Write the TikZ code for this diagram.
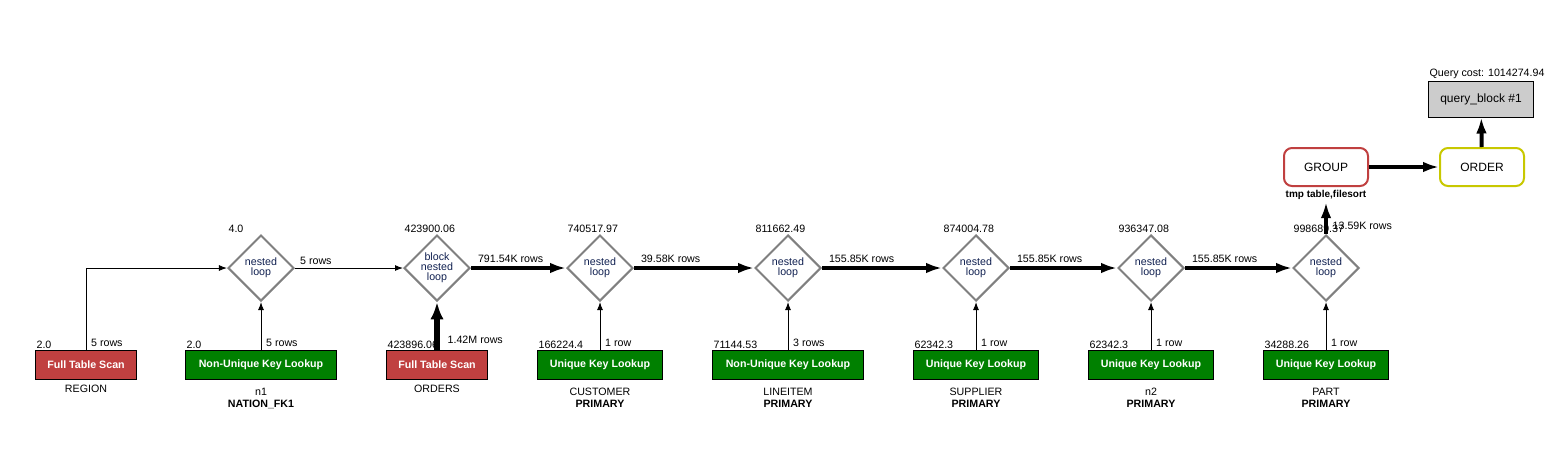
\documentclass[tikz,border=0pt]{standalone}
\usepackage{fontspec}
\setmainfont{Liberation Sans}
\usetikzlibrary{arrows.meta, positioning, shapes}
\definecolor{scanred}{RGB}{192,64,64}
\definecolor{lookgreen}{RGB}{0,128,0}
\definecolor{joinblue}{RGB}{16,32,80}
\definecolor{ordyellow}{RGB}{200,200,0}
\definecolor{qbgray}{RGB}{204,204,204}
\def\rowy{365}
\def\joiny{268}
\tikzstyle{every node}=[font=\fontsize{8}{9}\selectfont]
\tikzstyle{loop join}=[diamond, draw=gray, line width=1.5pt, minimum width=49.5pt, minimum height=49.5pt, inner sep=-2pt, align=center, text=joinblue, font=\fontsize{8}{7.5}\selectfont]
\tikzstyle{access op}=[rectangle, draw=black, line width=0.75pt, minimum height=22pt, text=white, font=\fontsize{8}{9}\selectfont\bfseries]
\tikzstyle{scan op}=[access op, fill=scanred, minimum width=75.75pt]
\tikzstyle{lookup op}=[access op, fill=lookgreen, minimum width=93.75pt]
\tikzstyle{nonunique op}=[access op, fill=lookgreen, minimum width=113.25pt]
\tikzstyle{tbl name}=[inner sep=2pt, align=center]
\tikzstyle{cost label}=[anchor=south west, inner sep=1pt]
\tikzstyle{rows label}=[anchor=south west, inner sep=2pt, xshift=1.5pt]
\tikzstyle{thin flow}=[-{Latex[length=6pt,width=4.5pt]}, line width=0.75pt]
\tikzstyle{thick flow}=[-{Latex[length=12pt,width=8pt]}, line width=3.5pt]
\tikzstyle{group op}=[rectangle, rounded corners=6pt, draw=scanred, line width=1.5pt, minimum width=63pt, minimum height=28.5pt, font=\fontsize{9}{10}\selectfont]
\tikzstyle{order op}=[group op, draw=ordyellow]
\tikzstyle{query block}=[rectangle, draw=black, fill=qbgray, line width=0.75pt, minimum width=78.75pt, minimum height=27pt, font=\fontsize{9}{10}\selectfont]

\begin{document}
\begin{tikzpicture}[x=0.75pt, y=-0.75pt]
        \useasboundingbox (0,0) rectangle (1561,472);

		% joins
		\node[loop join] (j1) at (261,\joiny) {nested\\loop};
		\node[loop join] (j2) at (437,\joiny) {block\\nested\\loop};
		\node[loop join] (j3) at (600,\joiny) {nested\\loop};
		\node[loop join] (j4) at (788,\joiny) {nested\\loop};
		\node[loop join] (j5) at (976,\joiny) {nested\\loop};
		\node[loop join] (j6) at (1151,\joiny) {nested\\loop};
		\node[loop join] (j7) at (1326,\joiny) {nested\\loop};
		\node[cost label] (j1 cost) at (j1.west |- j1.north) {4.0};
		\node[cost label] (j2 cost) at (j2.west |- j2.north) {423900.06};
		\node[cost label] (j3 cost) at (j3.west |- j3.north) {740517.97};
		\node[cost label] (j4 cost) at (j4.west |- j4.north) {811662.49};
		\node[cost label] (j5 cost) at (j5.west |- j5.north) {874004.78};
		\node[cost label] (j6 cost) at (j6.west |- j6.north) {936347.08};
		\node[cost label] (j7 cost) at (j7.west |- j7.north) {998689.37};

		% tables
		\node[scan op] (region) at (86,\rowy) {Full Table Scan};
		\node[nonunique op] (n1) at (261,\rowy) {Non-Unique Key Lookup};
		\node[scan op] (orders) at (437,\rowy) {Full Table Scan};
		\node[lookup op] (customer) at (600,\rowy) {Unique Key Lookup};
		\node[nonunique op] (lineitem) at (788,\rowy) {Non-Unique Key Lookup};
		\node[lookup op] (supplier) at (976,\rowy) {Unique Key Lookup};
		\node[lookup op] (n2) at (1151,\rowy) {Unique Key Lookup};
		\node[lookup op] (part) at (1326,\rowy) {Unique Key Lookup};
		\node[tbl name, below=1.5pt of region] (region name) {REGION};
		\node[tbl name, below=4pt of n1] (n1 name) {n1\\\textbf{NATION\_FK1}};
		\node[tbl name, below=1.5pt of orders] (orders name) {ORDERS};
		\node[tbl name, below=4pt of customer] (customer name) {CUSTOMER\\\textbf{PRIMARY}};
		\node[tbl name, below=4pt of lineitem] (lineitem name) {LINEITEM\\\textbf{PRIMARY}};
		\node[tbl name, below=4pt of supplier] (supplier name) {SUPPLIER\\\textbf{PRIMARY}};
		\node[tbl name, below=4pt of n2] (n2 name) {n2\\\textbf{PRIMARY}};
		\node[tbl name, below=4pt of part] (part name) {PART\\\textbf{PRIMARY}};
		\node[cost label] (region cost) at (region.north west) {2.0};
		\node[cost label] (n1 cost) at (n1.north west) {2.0};
		\node[cost label] (orders cost) at (orders.north west) {423896.06};
		\node[cost label] (customer cost) at (customer.north west) {166224.4};
		\node[cost label] (lineitem cost) at (lineitem.north west) {71144.53};
		\node[cost label] (supplier cost) at (supplier.north west) {62342.3};
		\node[cost label] (n2 cost) at (n2.north west) {62342.3};
		\node[cost label] (part cost) at (part.north west) {34288.26};

		% result
		\node[group op] (group) at (1326,167) {GROUP};
		\node[tbl name, below=0pt of group, font=\fontsize{7.5}{9}\selectfont\bfseries] (group note) {tmp table,filesort};
		\node[order op] (order) at (1482,167) {ORDER};
		\node[query block] (qb) at (1481,99) {query\_block \#1};
		\node[cost label] (qb cost) at (qb.north west) {Query cost: 1014274.94};

		\draw[thin flow] (region) |- node[rows label, pos=0] {5 rows} (j1);
		\path
		(n1) edge[thin flow] node[rows label, at start] {5 rows} (j1)
		(j1) edge[thin flow] node[rows label, at start] {5 rows} (j2)
		(orders) edge[thick flow, line width=5pt, -{Latex[length=13pt,width=10pt]}] node[rows label, at start, xshift=2pt] {1.42M rows} (j2)
		(j2) edge[thick flow] node[rows label, at start] {791.54K rows} (j3)
		(customer) edge[thin flow] node[rows label, at start] {1 row} (j3)
		(j3) edge[thick flow] node[rows label, at start] {39.58K rows} (j4)
		(lineitem) edge[thin flow] node[rows label, at start] {3 rows} (j4)
		(j4) edge[thick flow] node[rows label, at start] {155.85K rows} (j5)
		(supplier) edge[thin flow] node[rows label, at start] {1 row} (j5)
		(j5) edge[thick flow] node[rows label, at start] {155.85K rows} (j6)
		(n2) edge[thin flow] node[rows label, at start] {1 row} (j6)
		(j6) edge[thick flow] node[rows label, at start] {155.85K rows} (j7)
		(part) edge[thin flow] node[rows label, at start] {1 row} (j7)
		(j7) edge[thick flow, line width=3pt] node[rows label, at start] {13.59K rows} (group note)
		(group) edge[thick flow, line width=3pt] (order)
		(order) edge[thick flow, line width=3pt] (qb);
	\end{tikzpicture}
\end{document}
